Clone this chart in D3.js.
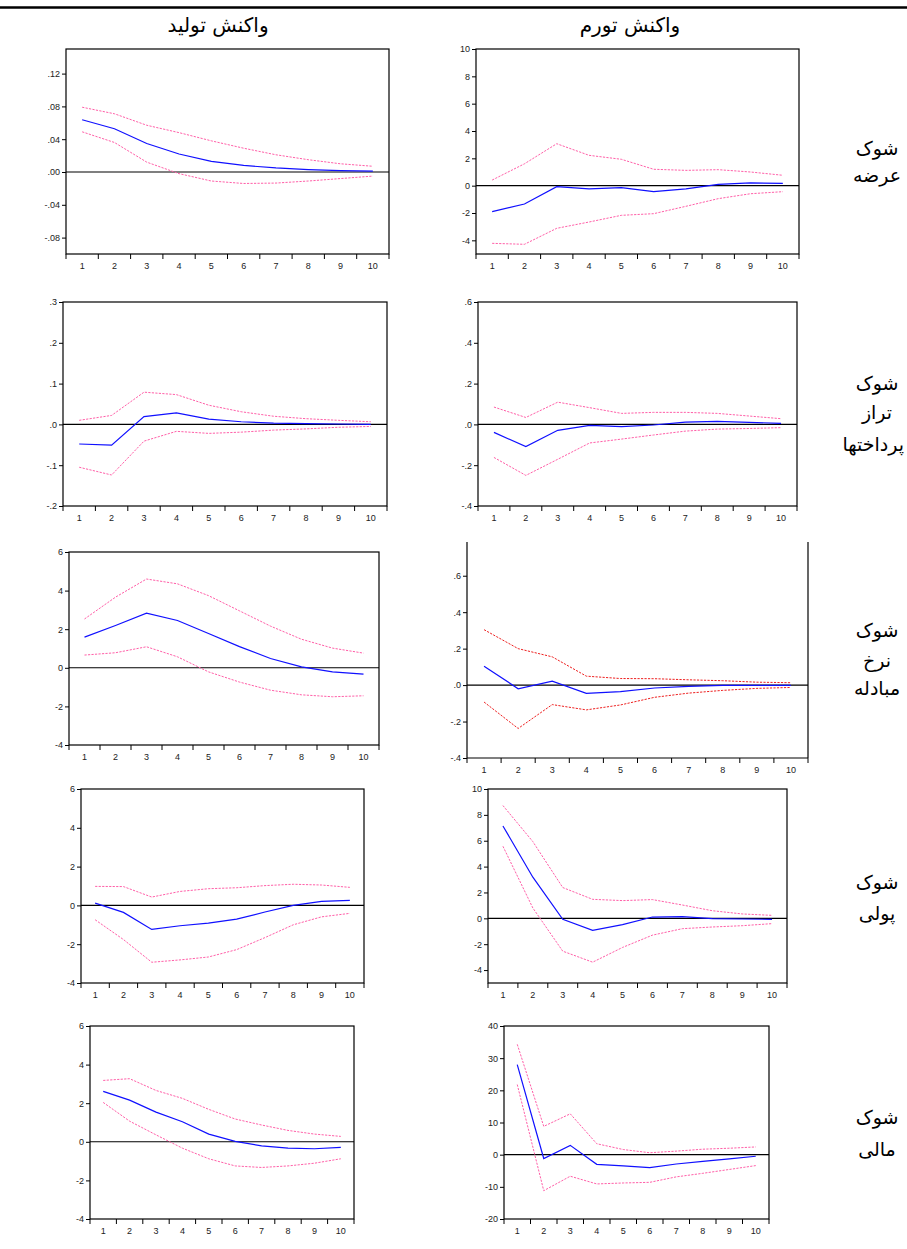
<!DOCTYPE html>
<html><head><meta charset="utf-8">
<script src="https://cdn.jsdelivr.net/npm/d3@7/dist/d3.min.js"></script>
<style>body{margin:0;background:#fff}svg{display:block}</style>
</head><body>
<svg id="chart" width="907" height="1249"></svg>
<script>
// ---------- data ----------
const periods = [1,2,3,4,5,6,7,8,9,10];
const colTitles = ["واکنش تولید", "واکنش تورم"];
const rowTitles = [["شوک","عرضه"],["شوک","تراز","پرداختها"],["شوک","نرخ","مبادله"],["شوک","پولی"],["شوک","مالی"]];

// supply shock
const supplyOutput    = [0.0637,0.0527,0.0347,0.022,0.013,0.008,0.005,0.003,0.0016,0.001];
const supplyOutputUp  = [0.079,0.071,0.057,0.048,0.038,0.029,0.021,0.015,0.010,0.007];
const supplyOutputLo  = [0.049,0.036,0.012,-0.002,-0.011,-0.014,-0.0135,-0.011,-0.008,-0.005];
const supplyInfl      = [-1.9,-1.34,-0.07,-0.24,-0.15,-0.44,-0.24,0.1,0.2,0.17];
const supplyInflUp    = [0.41,1.6,3.07,2.22,1.93,1.2,1.12,1.17,1.0,0.76];
const supplyInflLo    = [-4.22,-4.29,-3.12,-2.66,-2.17,-2.05,-1.51,-0.95,-0.59,-0.44];
// balance of payments shock
const bopOutput       = [-0.048,-0.051,0.019,0.028,0.013,0.0065,0.003,0.002,0.001,0.0];
const bopOutputUp     = [0.01,0.022,0.079,0.073,0.047,0.031,0.02,0.014,0.01,0.0065];
const bopOutputLo     = [-0.105,-0.124,-0.041,-0.017,-0.022,-0.019,-0.014,-0.011,-0.007,-0.005];
const bopInfl         = [-0.039,-0.109,-0.029,-0.005,-0.011,-0.003,0.011,0.015,0.01,0.005];
const bopInflUp       = [0.085,0.034,0.109,0.082,0.054,0.059,0.059,0.054,0.041,0.028];
const bopInflLo       = [-0.162,-0.25,-0.171,-0.091,-0.072,-0.052,-0.033,-0.023,-0.02,-0.016];
// exchange rate shock
const fxOutput        = [1.59,2.19,2.83,2.45,1.78,1.10,0.48,0.05,-0.21,-0.33];
const fxOutputUp      = [2.53,3.66,4.6,4.35,3.74,2.95,2.16,1.48,1.02,0.76];
const fxOutputLo      = [0.66,0.78,1.09,0.57,-0.21,-0.74,-1.16,-1.4,-1.5,-1.45];
const fxInfl          = [0.104,-0.02,0.022,-0.045,-0.036,-0.016,-0.007,-0.002,-0.002,-0.002];
const fxInflUp        = [0.304,0.2,0.155,0.049,0.036,0.035,0.029,0.024,0.016,0.013];
const fxInflLo        = [-0.093,-0.238,-0.107,-0.136,-0.109,-0.067,-0.044,-0.029,-0.018,-0.013];
// monetary shock
const monOutput       = [0.12,-0.36,-1.24,-1.05,-0.91,-0.71,-0.34,0.0,0.21,0.26];
const monOutputUp     = [0.98,0.97,0.43,0.72,0.86,0.91,1.02,1.09,1.05,0.93];
const monOutputLo     = [-0.74,-1.76,-2.93,-2.81,-2.66,-2.28,-1.66,-1.0,-0.59,-0.41];
const monInfl         = [7.14,3.18,-0.08,-0.93,-0.49,0.1,0.13,-0.03,-0.05,-0.08];
const monInflUp       = [8.72,5.93,2.38,1.47,1.37,1.45,1.03,0.59,0.34,0.23];
const monInflLo       = [5.57,0.80,-2.54,-3.39,-2.25,-1.3,-0.8,-0.67,-0.57,-0.41];
// financial shock
const finOutput       = [2.61,2.16,1.54,1.04,0.40,0.02,-0.21,-0.33,-0.36,-0.29];
const finOutputUp     = [3.18,3.27,2.66,2.25,1.68,1.18,0.87,0.59,0.40,0.28];
const finOutputLo     = [2.04,1.07,0.36,-0.33,-0.88,-1.25,-1.33,-1.25,-1.11,-0.88];
const finInfl         = [28.0,-1.2,2.9,-3.0,-3.5,-4.0,-2.9,-2.1,-1.3,-0.5];
const finInflUp       = [34.3,8.8,12.7,3.4,1.6,0.6,1.1,1.7,2.0,2.4];
const finInflLo       = [21.8,-11.2,-6.7,-9.1,-8.8,-8.6,-6.9,-5.8,-4.6,-3.4];

// y tick values and labels
const tickV_a = [0.12,0.08,0.04,0,-0.04,-0.08], tickL_a = [".12",".08",".04",".00","-.04","-.08"];
const tickV_b = [10,8,6,4,2,0,-2,-4],           tickL_b = ["10","8","6","4","2","0","-2","-4"];
const tickV_c = [0.3,0.2,0.1,0,-0.1,-0.2],      tickL_c = [".3",".2",".1",".0","-.1","-.2"];
const tickV_d = [0.6,0.4,0.2,0,-0.2,-0.4],      tickL_d = [".6",".4",".2",".0","-.2","-.4"];
const tickV_e = [6,4,2,0,-2,-4],                tickL_e = ["6","4","2","0","-2","-4"];
const tickV_f = [40,30,20,10,0,-10,-20],        tickL_f = ["40","30","20","10","0","-10","-20"];

// ---------- layout ----------
const PINK = "#ff5fa8", RED = "#ee2020", BLUE = "#1010ff";
const panels = [
  {m:supplyOutput,u:supplyOutputUp,l:supplyOutputLo,dom:[-0.10,0.15],tv:tickV_a,tl:tickL_a,box:[66,389,49,254],band:PINK},
  {m:supplyInfl,u:supplyInflUp,l:supplyInflLo,dom:[-5,10],tv:tickV_b,tl:tickL_b,box:[476,799,49,254],band:PINK},
  {m:bopOutput,u:bopOutputUp,l:bopOutputLo,dom:[-0.2,0.3],tv:tickV_c,tl:tickL_c,box:[63,387,302,506],band:PINK},
  {m:bopInfl,u:bopInflUp,l:bopInflLo,dom:[-0.4,0.6],tv:tickV_d,tl:tickL_d,box:[478,797,302,506],band:PINK},
  {m:fxOutput,u:fxOutputUp,l:fxOutputLo,dom:[-4,6],tv:tickV_e,tl:tickL_e,box:[69,379,552,745],band:PINK},
  {m:fxInfl,u:fxInflUp,l:fxInflLo,dom:[-0.4,0.785],tv:tickV_d,tl:tickL_d,box:[467,808,542,758],band:RED,openTop:true},
  {m:monOutput,u:monOutputUp,l:monOutputLo,dom:[-4,6],tv:tickV_e,tl:tickL_e,box:[81,364,789,983],band:PINK},
  {m:monInfl,u:monInflUp,l:monInflLo,dom:[-5,10],tv:tickV_b,tl:tickL_b,box:[488,787,789,983],band:PINK},
  {m:finOutput,u:finOutputUp,l:finOutputLo,dom:[-4,6],tv:tickV_e,tl:tickL_e,box:[90,354,1026,1219],band:PINK},
  {m:finInfl,u:finInflUp,l:finInflLo,dom:[-20,40],tv:tickV_f,tl:tickL_f,box:[504,769,1026,1219],band:PINK}
];

const svg = d3.select("#chart");
svg.append("rect").attr("width",907).attr("height",1249).attr("fill","#fff");

// top rule
svg.append("line").attr("x1",0).attr("x2",907).attr("y1",7.5).attr("y2",7.5)
  .attr("stroke","#000").attr("stroke-width",2.6);

const arFont = "DejaVu Sans, Noto Sans, sans-serif";

// column titles
const titleX = [218, 630];
colTitles.forEach((t,i)=>{
  svg.append("text").attr("x",titleX[i]).attr("y",32).attr("text-anchor","middle")
    .attr("direction","rtl").attr("font-family",arFont)
    .attr("font-size",20).attr("fill","#000").text(t);
});

// row titles (kept inside the right edge)
const rowY = [[149,176],[384,413,445],[631,661,689],[883,914],[1118,1150]];
rowTitles.forEach((lines,r)=>{
  lines.forEach((t,k)=>{
    const tx = svg.append("text").attr("x",877).attr("y",rowY[r][k]).attr("text-anchor","middle")
      .attr("dominant-baseline","middle").attr("direction","rtl")
      .attr("font-family",arFont).attr("font-size",19)
      .attr("fill","#000").text(t);
    const w = tx.node().getComputedTextLength();
    if (877 + w/2 > 904) tx.attr("x", 904 - w/2);
  });
});

const tickFont = "Liberation Sans, Arial, sans-serif";

panels.forEach(p=>{
  const [x0,x1,y0,y1] = p.box;
  const x = d3.scaleBand().domain(periods).range([x0,x1]);
  const y = d3.scaleLinear().domain(p.dom).range([y1,y0]);
  const cx = d => x(d) + x.bandwidth()/2;
  const g = svg.append("g");

  // frame
  if (p.openTop) {
    g.append("line").attr("x1",x0).attr("x2",x0).attr("y1",y0).attr("y2",y1).attr("stroke","#000").attr("stroke-width",1.2);
    g.append("line").attr("x1",x1).attr("x2",x1).attr("y1",y0).attr("y2",y1).attr("stroke","#000").attr("stroke-width",1.2);
    g.append("line").attr("x1",x0).attr("x2",x1).attr("y1",y1).attr("y2",y1).attr("stroke","#000").attr("stroke-width",1.2);
  } else {
    g.append("rect").attr("x",x0).attr("y",y0).attr("width",x1-x0).attr("height",y1-y0)
      .attr("fill","none").attr("stroke","#000").attr("stroke-width",1.2);
  }

  // y axis
  const yAxis = d3.axisLeft(y).tickValues(p.tv).tickSize(4).tickPadding(2)
    .tickFormat((d,i)=>p.tl[i]);
  const ya = g.append("g").attr("transform",`translate(${x0},0)`).call(yAxis);
  ya.select(".domain").remove();
  ya.selectAll("text").attr("font-family",tickFont).attr("font-size",9).attr("fill","#222");
  ya.selectAll("line").attr("stroke","#000");

  // x axis: ticks at band boundaries, labels at band centres
  const bounds = periods.map(d=>x(d)).concat([x1]);
  g.selectAll(".xt").data(bounds).enter().append("line")
    .attr("x1",d=>d).attr("x2",d=>d).attr("y1",y1).attr("y2",y1+5)
    .attr("stroke","#000").attr("stroke-width",1);
  g.selectAll(".xl").data(periods).enter().append("text")
    .attr("x",cx).attr("y",y1+15).attr("text-anchor","middle")
    .attr("font-family",tickFont).attr("font-size",9).attr("fill","#222").text(d=>d);

  // zero line
  g.append("line").attr("x1",x0).attr("x2",x1).attr("y1",y(0)).attr("y2",y(0))
    .attr("stroke","#000").attr("stroke-width",1.1);

  const line = d3.line().x((d,i)=>cx(periods[i])).y(d=>y(d));
  [p.u,p.l].forEach(arr=>{
    g.append("path").attr("d",line(arr)).attr("fill","none")
      .attr("stroke",p.band).attr("stroke-width",1).attr("stroke-dasharray","2.2,1.3");
  });
  g.append("path").attr("d",line(p.m)).attr("fill","none")
    .attr("stroke",BLUE).attr("stroke-width",1.2);
});
</script>
</body></html>
